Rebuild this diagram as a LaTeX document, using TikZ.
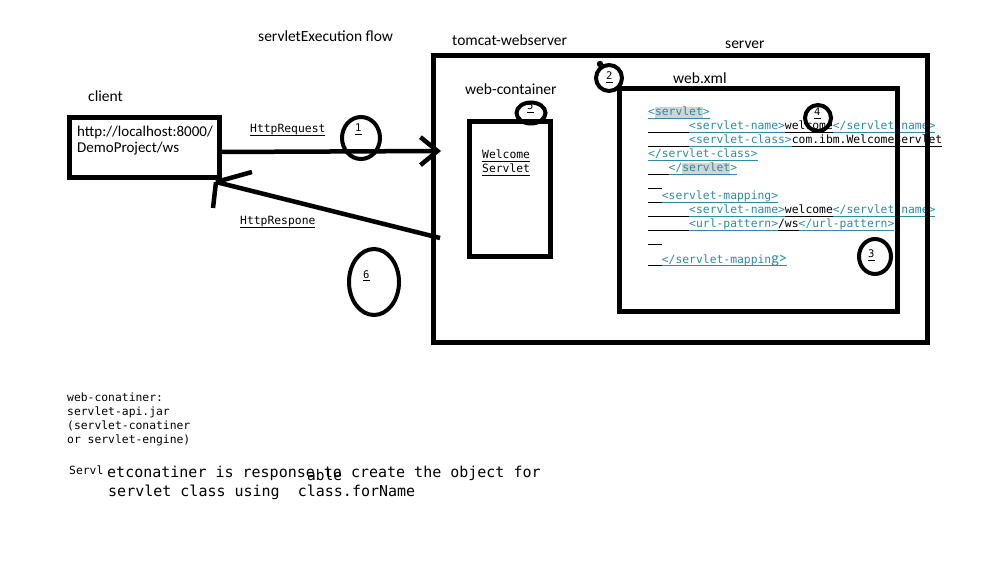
\documentclass[tikz,border=0pt]{standalone}
\usepackage{fontspec}
\setmainfont{Carlito}
\newfontfamily\monof{DejaVu Sans Mono}
\usetikzlibrary{arrows.meta,shapes.geometric}
\definecolor{tagc}{RGB}{46,139,160}
\definecolor{hlc}{RGB}{212,212,212}
\newcommand\ulx[1]{\leavevmode{\setbox0\hbox{#1}\dp0=1.6pt\vtop{\copy0\kern0pt\hrule height0.9pt}}}
\newcommand\tg[1]{\textcolor{tagc}{\ulx{#1}}}
\newcommand\hlx[1]{{\setlength\fboxsep{0pt}\colorbox{hlc}{\rule[-2pt]{0pt}{11pt}#1}}}
\newcommand\lead[1]{\ulx{\hphantom{#1}}}
\begin{document}
\begin{tikzpicture}[x=1pt,y=-1pt,
  box/.style={draw,line width=5pt,inner sep=0pt,rectangle},
  lbl/.style={inner sep=0pt,anchor=base west,font=\fontsize{15.5}{18}\selectfont},
  urltxt/.style={inner sep=0pt,anchor=base west,font=\fontsize{15}{17}\selectfont},
  mono/.style={inner sep=0pt,anchor=base west,font=\monof\fontsize{11.36}{14}\selectfont},
  bigmono/.style={inner sep=0pt,anchor=base west,font=\monof\fontsize{15}{18}\selectfont},
  num/.style={inner sep=0pt,anchor=base west,font=\monof\fontsize{10.5}{12}\selectfont},
  ring/.style={draw,ellipse,line width=4pt,inner sep=0pt},
  flow/.style={line width=4.5pt},
]
\fill[white] (0,0) rectangle (1000,561);
\useasboundingbox (0,0) rectangle (1000,561);

% labels
\node[lbl] (title) at (258,42) {servletExecution flow};
\node[lbl] (clientlbl) at (88,102) {client};
\node[lbl] (tomcatlbl) at (452,46) {tomcat-webserver};
\node[lbl] (serverlbl) at (725,49) {server};
\node[lbl] (wclbl) at (465,95) {web-container};
\node[lbl] (xmllbl) at (673,84) {web.xml};

% client
\node[urltxt] (url1) at (77,137) {http://localhost:8000/};
\node[urltxt] (url2) at (77,153) {DemoProject/ws};
\node[box,minimum width=150pt,minimum height=60pt] (client) at (144.5,147.5) {};

% xml text
\node[mono] (x1) at (648,116) {\tg{<\hlx{servlet}>}};
\node[mono] (x2) at (648,130) {\lead{000000}\tg{<servlet-name>}\ulx{welcome}\tg{</servlet-name>}};
\node[mono] (x3) at (648,144) {\lead{000000}\tg{<servlet-class>}\ulx{com.ibm.WelcomeServlet}};
\node[mono] (x4) at (648,158) {\tg{</servlet-class>}};
\node[mono] (x5) at (648,172) {\lead{000}\tg{</\hlx{servlet}>}};
\node[mono] (x6) at (648,186) {\lead{00}};
\node[mono] (x7) at (648,200) {\lead{00}\tg{<servlet-mapping>}};
\node[mono] (x8) at (648,214) {\lead{000000}\tg{<servlet-name>}\ulx{welcome}\tg{</servlet-name>}};
\node[mono] (x9) at (648,228) {\lead{000000}\tg{<url-pattern>}\ulx{/ws}\tg{</url-pattern>}};
\node[mono] (x10) at (648,242) {\lead{00}};
\node[mono] (x11) at (648,263) {\lead{00}\tg{</servlet-mappin{\rmfamily\fontsize{16}{18}\selectfont g>}}};

% boxes
\node[box,minimum width=494pt,minimum height=286.5pt] (tomcat) at (680.5,198.75) {};
\node[box,minimum width=277.5pt,minimum height=222.5pt] (webxml) at (758.25,199.75) {};
\node[box,minimum width=81pt,minimum height=135pt] (servlet) at (510,189) {};
\node[mono] (ws1) at (482,159) {\ulx{Welcome}};
\node[mono] (ws2) at (482,173) {\ulx{Servlet}};

% arrow labels
\node[mono] (reqlbl) at (250,133) {\ulx{HttpRequest}};
\node[mono] (reslbl) at (240,225) {\ulx{HttpRespone}};

% arrows
\coordinate (reqS) at (219.5,152);
\coordinate (reqT) at (441,151);
\draw[flow,-{Straight Barb[length=17pt,width=28pt,line width=4.5pt]}] (reqS) -- (reqT);
\coordinate (resS) at (440,238);
\coordinate (resT) at (216,182);
\coordinate (resB1) at (252,172);
\coordinate (resB2) at (213,208);
\draw[flow] (resS) -- (resT) (resT) -- (resB1) (resT) -- (resB2);

% numbered rings
\node[ring,minimum width=38pt,minimum height=42pt] (r1) at (361,138) {};
\node[num] (n1) at (355,132) {\ulx{1}};
\node[ring,minimum width=50pt,minimum height=66pt] (r6) at (374,282) {};
\node[num] (n6) at (363,278) {\ulx{6}};
\node[ring,minimum width=29pt,minimum height=21pt] (r5) at (531,113) {};
\node[num] (n5) at (527,110) {\ulx{5}};
\node[ring,minimum width=26pt,minimum height=26pt] (r2) at (609,78) {};
\coordinate (k2) at (600,64);
\fill (k2) circle (3.2);
\node[num] (n2) at (606,80) {\ulx{2}};
\node[ring,minimum width=26pt,minimum height=26pt] (r4) at (818,118) {};
\node[num] (n4) at (814,116) {\ulx{4}};
\node[ring,minimum width=32pt,minimum height=35pt] (r3) at (875,256.5) {};
\node[num] (n3) at (868,258) {\ulx{3}};

% bottom notes
\node[mono] (m1) at (67,401) {web-conatiner:};
\node[mono] (m2) at (67,415) {servlet-api.jar};
\node[mono] (m3) at (67,429) {(servlet-conatiner};
\node[mono] (m4) at (67,443) {or servlet-engine)};
\node[mono] (sv) at (69,474) {Servl};
\node[bigmono] (b1) at (107,477) {etconatiner is response to create the object for};
\node[bigmono,font=\monof\fontsize{14.5}{17}\selectfont] (able) at (307,480) {able};
\node[bigmono] (b2) at (108,496) {servlet class using\ \ class.forName};
\end{tikzpicture}
\end{document}
